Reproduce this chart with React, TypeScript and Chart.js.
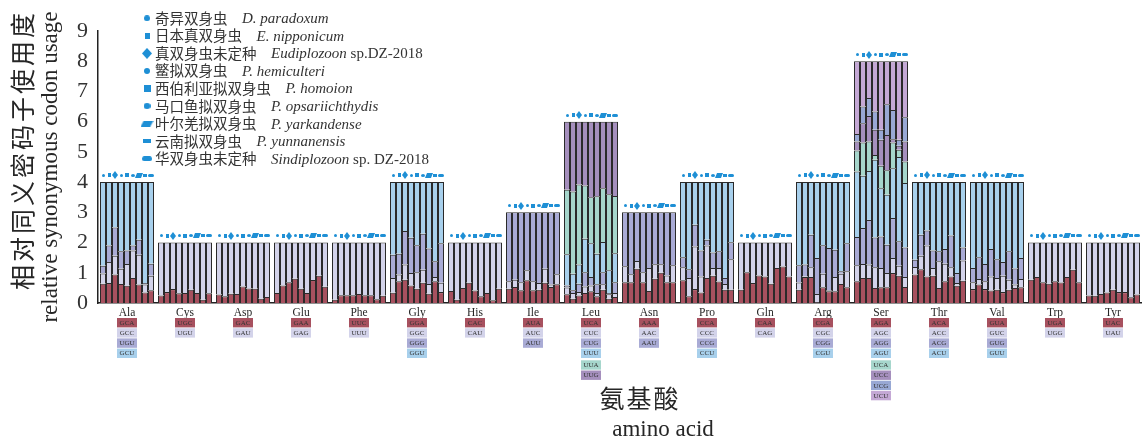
import React, { useEffect, useRef } from 'react';
import { Chart, registerables } from 'chart.js';

Chart.register(...registerables);

// ---------- categories ----------
const aminoAcids = ['Ala', 'Cys', 'Asp', 'Glu', 'Phe', 'Gly', 'His', 'Ile', 'Leu', 'Asn', 'Pro', 'Gln', 'Arg', 'Ser', 'Thr', 'Val', 'Trp', 'Tyr'];

// ---------- species (bar order = legend order) ----------
const speciesCn = ['奇异双身虫', '日本真双身虫', '真双身虫未定种', '鳘拟双身虫', '西伯利亚拟双身虫', '马口鱼拟双身虫', '叶尔羌拟双身虫', '云南拟双身虫', '华双身虫未定种'];
const speciesLatinItalic = ['D. paradoxum', 'E. nipponicum', 'Eudiplozoon', 'P. hemiculteri', 'P. homoion', 'P. opsariichthydis', 'P. yarkandense', 'P. yunnanensis', 'Sindiplozoon'];
const speciesLatinPlain = ['', '', ' sp.DZ-2018', '', '', '', '', '', ' sp. DZ-2018'];

// ---------- codons per amino acid ----------
const codonsAla = ['GCA', 'GCC', 'UGU', 'GCU'];
const codonsCys = ['UGC', 'UGU'];
const codonsAsp = ['GAC', 'GAU'];
const codonsGlu = ['GAA', 'GAG'];
const codonsPhe = ['UUC', 'UUU'];
const codonsGly = ['GGA', 'GGC', 'GGG', 'GGU'];
const codonsHis = ['CAC', 'CAU'];
const codonsIle = ['AUA', 'AUC', 'AUU'];
const codonsLeu = ['UCA', 'CUC', 'CUG', 'UUU', 'UUA', 'UUG'];
const codonsAsn = ['AAA', 'AAC', 'AAU'];
const codonsPro = ['CCA', 'CCC', 'CCG', 'CCU'];
const codonsGln = ['CAA', 'CAG'];
const codonsArg = ['CGA', 'CGC', 'CGG', 'CGU'];
const codonsSer = ['AGA', 'AGC', 'AGG', 'AGU', 'UCA', 'UCC', 'UCG', 'UCU'];
const codonsThr = ['ACA', 'ACC', 'ACG', 'ACU'];
const codonsVal = ['GUA', 'GUC', 'GUG', 'GUU'];
const codonsTrp = ['UGA', 'UGG'];
const codonsTyr = ['UAC', 'UAU'];

// ---------- RSCU values: one row per species, one value per codon ----------
const rscuAla = [[0.64, 0.34, 0.25, 2.77], [0.66, 0.70, 0.54, 2.10], [0.94, 0.62, 0.94, 1.50], [0.63, 0.50, 0.58, 2.29], [0.57, 0.72, 0.45, 2.26], [0.83, 0.91, 0.16, 2.10], [0.61, 0.99, 0.49, 1.91], [0.35, 0.26, 0.05, 3.34], [0.42, 0.48, 0.40, 2.70]];
const rscuCys = [[0.25, 1.75], [0.36, 1.64], [0.46, 1.54], [0.32, 1.68], [0.33, 1.67], [0.44, 1.56], [0.33, 1.67], [0.11, 1.89], [0.32, 1.68]];
const rscuAsp = [[0.28, 1.72], [0.22, 1.78], [0.31, 1.69], [0.30, 1.70], [0.55, 1.45], [0.48, 1.52], [0.47, 1.53], [0.14, 1.86], [0.20, 1.80]];
const rscuGlu = [[0.33, 1.67], [0.58, 1.42], [0.69, 1.31], [0.80, 1.20], [0.47, 1.53], [0.33, 1.67], [0.76, 1.24], [0.90, 1.10], [0.54, 1.46]];
const rscuPhe = [[0.11, 1.89], [0.26, 1.74], [0.26, 1.74], [0.26, 1.74], [0.30, 1.70], [0.26, 1.74], [0.26, 1.74], [0.12, 1.88], [0.24, 1.76]];
const rscuGly = [[0.34, 0.49, 0.77, 2.40], [0.72, 0.22, 0.69, 2.37], [0.77, 0.50, 1.11, 1.62], [0.58, 0.41, 1.17, 1.84], [0.47, 0.55, 0.89, 2.09], [0.67, 0.43, 1.19, 1.71], [0.31, 0.32, 1.17, 2.20], [0.72, 0.14, 0.52, 2.62], [0.36, 0.31, 1.31, 2.02]];
const rscuHis = [[0.40, 1.60], [0.11, 1.89], [0.50, 1.50], [0.67, 1.33], [0.41, 1.59], [0.22, 1.78], [0.33, 1.67], [0.09, 1.91], [0.47, 1.53]];
const rscuIle = [[0.47, 0.25, 2.28], [0.53, 0.24, 2.23], [0.42, 0.27, 2.31], [0.75, 0.33, 1.92], [0.42, 0.30, 2.28], [0.44, 0.22, 2.34], [0.67, 0.46, 1.87], [0.53, 0.08, 2.39], [0.62, 0.33, 2.05]];
const rscuLeu = [[0.29, 0.22, 0.07, 1.03, 2.14, 2.25], [0.14, 0.19, 0.09, 0.55, 2.72, 2.31], [0.25, 0.11, 0.28, 0.63, 2.65, 2.08], [0.33, 0.22, 0.47, 1.11, 1.76, 2.11], [0.39, 0.19, 0.28, 1.12, 1.52, 2.50], [0.22, 0.11, 0.29, 1.01, 1.90, 2.47], [0.44, 0.18, 0.40, 1.00, 1.78, 2.20], [0.14, 0.15, 0.04, 0.75, 2.52, 2.40], [0.20, 0.13, 0.36, 0.96, 1.89, 2.46]];
const rscuAsn = [[0.69, 0.53, 1.78], [0.69, 0.26, 2.05], [1.13, 0.26, 1.61], [0.69, 0.33, 1.98], [0.40, 0.76, 1.84], [0.80, 0.48, 1.72], [1.00, 0.28, 1.72], [0.69, 0.22, 2.09], [0.69, 0.56, 1.75]];
const rscuPro = [[0.75, 0.43, 0.33, 2.49], [0.22, 0.61, 0.29, 2.88], [0.46, 1.41, 0.72, 1.41], [0.35, 0.53, 0.86, 2.26], [0.83, 1.07, 0.19, 1.91], [0.90, 0.26, 0.51, 2.33], [0.71, 0.45, 0.55, 2.29], [0.44, 0.19, 0.20, 3.17], [0.44, 1.01, 0.56, 1.99]];
const rscuGln = [[0.44, 1.56], [1.02, 0.98], [0.66, 1.34], [0.91, 1.09], [0.88, 1.12], [0.64, 1.36], [1.16, 0.84], [1.21, 0.79], [0.88, 1.12]];
const rscuArg = [[0.44, 0.24, 0.57, 2.75], [0.86, 0.02, 0.39, 2.73], [0.86, 0.32, 1.08, 1.74], [0.02, 0.28, 1.19, 2.51], [0.52, 0.45, 0.94, 2.09], [0.39, 0.03, 1.40, 2.18], [0.39, 0.47, 0.90, 2.24], [0.63, 0.34, 0.08, 2.95], [0.52, 0.53, 0.93, 2.02]];
const rscuSer = [[0.72, 0.53, 0.93, 2.17, 0.70, 0.29, 0.25, 2.41], [0.83, 0.46, 1.19, 1.73, 1.10, 0.64, 0.55, 1.50], [0.83, 0.44, 1.48, 1.62, 0.97, 0.85, 0.59, 1.22], [0.50, 0.68, 0.99, 2.57, 0.16, 0.83, 0.61, 1.66], [0.52, 0.64, 1.04, 1.60, 0.74, 0.86, 0.33, 2.27], [0.52, 0.47, 0.94, 1.65, 0.81, 1.17, 1.02, 1.42], [0.99, 0.50, 1.32, 1.65, 0.85, 0.11, 0.97, 1.61], [0.90, 0.33, 0.81, 2.79, 0.24, 0.13, 0.20, 2.60], [0.53, 0.33, 0.98, 2.13, 0.71, 0.66, 0.81, 1.85]];
const rscuThr = [[0.94, 0.25, 0.24, 2.57], [1.12, 0.44, 0.70, 1.74], [0.88, 1.02, 0.50, 1.60], [0.90, 0.26, 0.58, 2.26], [0.50, 0.88, 0.33, 2.29], [0.72, 0.58, 0.49, 2.21], [0.88, 0.30, 1.05, 1.77], [0.57, 0.09, 0.33, 3.01], [0.74, 0.67, 0.43, 2.16]];
const rscuVal = [[0.46, 0.23, 0.47, 2.84], [0.61, 0.18, 0.72, 2.49], [0.46, 0.26, 0.57, 2.71], [0.41, 0.47, 0.91, 2.21], [0.44, 0.39, 0.62, 2.55], [0.36, 0.54, 0.46, 2.64], [0.44, 0.33, 0.94, 2.29], [0.50, 0.11, 0.53, 2.86], [0.52, 0.27, 0.70, 2.51]];
const rscuTrp = [[0.77, 1.23], [0.86, 1.14], [0.69, 1.31], [0.64, 1.36], [0.72, 1.28], [0.68, 1.32], [0.86, 1.14], [1.10, 0.90], [0.69, 1.31]];
const rscuTyr = [[0.25, 1.75], [0.24, 1.76], [0.30, 1.70], [0.35, 1.65], [0.44, 1.56], [0.36, 1.64], [0.36, 1.64], [0.19, 1.81], [0.28, 1.72]];

const yTicks = [0, 1, 2, 3, 4, 5, 6, 7, 8, 9];

// ---------- tables built from the named arrays ----------
const codonTable = [codonsAla, codonsCys, codonsAsp, codonsGlu, codonsPhe, codonsGly, codonsHis, codonsIle, codonsLeu, codonsAsn, codonsPro, codonsGln, codonsArg, codonsSer, codonsThr, codonsVal, codonsTrp, codonsTyr];
const rscuTable = [rscuAla, rscuCys, rscuAsp, rscuGlu, rscuPhe, rscuGly, rscuHis, rscuIle, rscuLeu, rscuAsn, rscuPro, rscuGln, rscuArg, rscuSer, rscuThr, rscuVal, rscuTrp, rscuTyr];

// ---------- styles ----------
const codonColors = ['#a7515f', '#d3d3ea', '#a9abd5', '#a8d0ec', '#a6d6cc', '#a58fbd', '#98a8d4', '#c4a8d5'];
const markerBlue = '#1e8fd5';
const CAT_PCT = 54 / 58;
const MARKER_LIFT = 0.22;
const TEXT = '#262626';

type Shape = { kind: string; w: number; h: number };
const plotShapes: Shape[] = [
  { kind: 'circle', w: 3, h: 3 },
  { kind: 'rect', w: 3, h: 4 },
  { kind: 'diamond', w: 6, h: 8 },
  { kind: 'circle', w: 3, h: 3 },
  { kind: 'rect', w: 4, h: 4 },
  { kind: 'circle', w: 4, h: 3 },
  { kind: 'para', w: 8, h: 5 },
  { kind: 'rect', w: 4, h: 3 },
  { kind: 'capsule', w: 6, h: 3 },
];
const legendShapes: Shape[] = [
  { kind: 'circle', w: 6, h: 6 },
  { kind: 'rect', w: 5, h: 6 },
  { kind: 'diamond', w: 10, h: 11 },
  { kind: 'circle', w: 6, h: 6 },
  { kind: 'rect', w: 7, h: 7 },
  { kind: 'circle', w: 7, h: 6 },
  { kind: 'para', w: 13, h: 6 },
  { kind: 'rect', w: 8, h: 4 },
  { kind: 'capsule', w: 10, h: 5 },
];

function makeMarker(sh: Shape): HTMLCanvasElement {
  const c = document.createElement('canvas');
  c.width = sh.w;
  c.height = sh.h;
  const g = c.getContext('2d')!;
  g.fillStyle = markerBlue;
  const { w, h } = sh;
  g.beginPath();
  if (sh.kind === 'circle') {
    g.ellipse(w / 2, h / 2, w / 2, h / 2, 0, 0, Math.PI * 2);
  } else if (sh.kind === 'rect') {
    g.rect(0, 0, w, h);
  } else if (sh.kind === 'diamond') {
    g.moveTo(w / 2, 0); g.lineTo(w, h / 2); g.lineTo(w / 2, h); g.lineTo(0, h / 2); g.closePath();
  } else if (sh.kind === 'para') {
    const s = w * 0.25;
    g.moveTo(s, 0); g.lineTo(w, 0); g.lineTo(w - s, h); g.lineTo(0, h); g.closePath();
  } else if (sh.kind === 'capsule') {
    const r = h / 2;
    g.moveTo(r, 0); g.lineTo(w - r, 0); g.arc(w - r, r, r, -Math.PI / 2, Math.PI / 2); g.lineTo(r, h); g.arc(r, r, r, Math.PI / 2, Math.PI * 1.5); g.closePath();
  }
  g.fill();
  return c;
}

const decorPlugin = (plotImgs: HTMLCanvasElement[], legendImgs: HTMLCanvasElement[]) => ({
  id: 'decor',
  afterDatasetsDraw(chart: any) {
    // species markers above each bar, positioned by the bar elements and the y scale
    const ctx: CanvasRenderingContext2D = chart.ctx;
    const ys = chart.scales.y;
    ctx.save();
    speciesCn.forEach((_, s) => {
      const meta = chart.getDatasetMeta(s * codonColors.length);
      const img = plotImgs[s];
      meta.data.forEach((el: any, i: number) => {
        const y = ys.getPixelForValue(codonTable[i].length + MARKER_LIFT);
        ctx.drawImage(img, Math.round(el.x - img.width / 2), Math.round(y - img.height / 2));
      });
    });
    ctx.restore();
  },
  afterDraw(chart: any) {
    const ctx: CanvasRenderingContext2D = chart.ctx;
    const xs = chart.scales.x;
    ctx.save();
    // amino acid names and codon boxes
    aminoAcids.forEach((aa, i) => {
      const cx = xs.getPixelForValue(i);
      ctx.fillStyle = TEXT;
      ctx.font = '11.5px "Liberation Serif"';
      ctx.textAlign = 'center';
      ctx.textBaseline = 'middle';
      ctx.fillText(aa, cx, 312.5);
      codonTable[i].forEach((cod, k) => {
        const y = 318 + k * 10.2 + (k >= 4 ? 1.5 : 0);
        ctx.fillStyle = codonColors[k];
        ctx.fillRect(cx - 10, y, 20, 9.4);
        ctx.fillStyle = '#333';
        ctx.font = '7px "Liberation Serif"';
        ctx.fillText(cod, cx, y + 5);
      });
    });
    // legend
    speciesCn.forEach((cn, r) => {
      const y = 18.3 + r * 17.55;
      const img = legendImgs[r];
      ctx.drawImage(img, 147 - img.width / 2, y - img.height / 2);
      ctx.fillStyle = '#333';
      ctx.textAlign = 'left';
      ctx.textBaseline = 'middle';
      ctx.font = '14.5px "Noto Sans CJK SC"';
      ctx.fillText(cn, 155, y);
      let x = 155 + ctx.measureText(cn).width + 14.5;
      ctx.font = 'italic 15px "Liberation Serif"';
      ctx.fillText(speciesLatinItalic[r], x, y + 1);
      x += ctx.measureText(speciesLatinItalic[r]).width;
      ctx.font = '15px "Liberation Serif"';
      ctx.fillText(speciesLatinPlain[r], x, y + 1);
    });
    // y axis titles
    ctx.fillStyle = TEXT;
    ctx.textAlign = 'center';
    ctx.textBaseline = 'middle';
    ctx.save();
    ctx.translate(22, 150);
    ctx.rotate(-Math.PI / 2);
    ctx.font = '25px "Noto Sans CJK SC"';
    (ctx as any).letterSpacing = '3px';
    ctx.fillText('相对同义密码子使用度', 0, 0);
    ctx.restore();
    ctx.save();
    ctx.translate(51, 167);
    ctx.rotate(-Math.PI / 2);
    ctx.font = '23px "Liberation Serif"';
    ctx.fillText('relative synonymous codon usage', 0, 0);
    ctx.restore();
    // x axis titles
    ctx.font = '25px "Noto Sans CJK SC"';
    (ctx as any).letterSpacing = '2px';
    ctx.fillText('氨基酸', 640, 398);
    (ctx as any).letterSpacing = '0px';
    ctx.font = '23px "Liberation Serif"';
    ctx.fillText('amino acid', 663, 430);
    ctx.restore();
  },
});

export default function App() {
  const ref = useRef<HTMLCanvasElement | null>(null);

  useEffect(() => {
    if (!ref.current) return;
    const plotImgs = plotShapes.map(makeMarker);
    const legendImgs = legendShapes.map(makeMarker);

    const barSets: any[] = [];
    for (let s = 0; s < speciesCn.length; s++) {
      for (let k = 0; k < codonColors.length; k++) {
        barSets.push({
          label: `${speciesLatinItalic[s]} ${k}`,
          stack: 'sp' + s,
          data: rscuTable.map((rows) => (rows[s][k] === undefined ? null : rows[s][k])),
          backgroundColor: codonColors[k],
          borderColor: '#2a2a2a',
          borderWidth: 1,
          categoryPercentage: CAT_PCT,
          barPercentage: 1,
        });
      }
    }

    const chart = new Chart(ref.current, {
      type: 'bar',
      data: { labels: aminoAcids, datasets: barSets },
      options: {
        animation: false,
        responsive: false,
        maintainAspectRatio: false,
        events: [],
        layout: { padding: { left: 0, top: 31, right: 0, bottom: 140 } },
        plugins: { legend: { display: false }, tooltip: { enabled: false } },
        scales: {
          x: {
            type: 'category',
            offset: true,
            grid: { display: false, drawTicks: false },
            ticks: { display: false },
            border: { display: true, color: '#222', width: 1.5 },
          },
          y: {
            stacked: true,
            min: yTicks[0],
            max: yTicks[yTicks.length - 1],
            grid: { display: false, drawTicks: false },
            border: { display: true, color: '#222', width: 1.5 },
            ticks: {
              stepSize: 1,
              padding: 10,
              color: '#333',
              font: { family: '"Liberation Serif"', size: 22 },
            },
            afterFit: (scale: any) => {
              scale.width = 98;
            },
          },
        },
      } as any,
      plugins: [decorPlugin(plotImgs, legendImgs)],
    });
    return () => chart.destroy();
  }, []);

  return (
    <div style={{ position: 'fixed', left: 0, top: 0, width: 1142, height: 443, overflow: 'hidden', background: '#fff' }}>
      <canvas ref={ref} width={1142} height={443} style={{ width: 1142, height: 443, display: 'block' }} />
    </div>
  );
}
